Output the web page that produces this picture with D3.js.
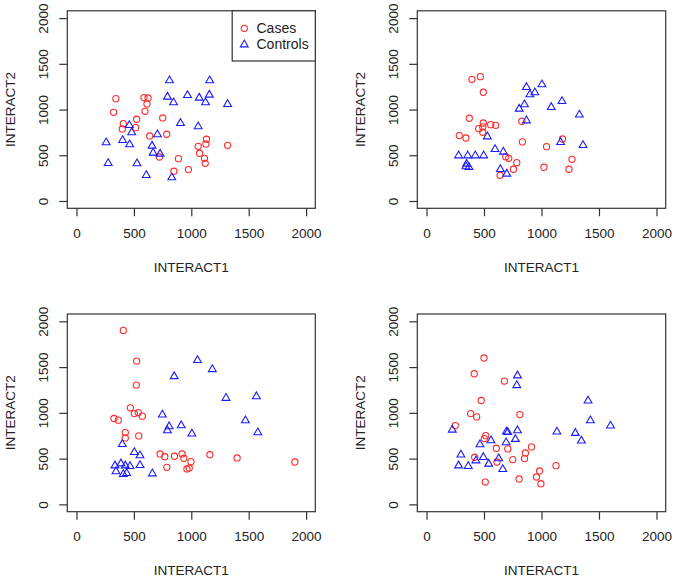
<!DOCTYPE html>
<html>
<head>
<meta charset="utf-8">
<script src="https://cdn.jsdelivr.net/npm/d3@7"></script>
<style>
  body { margin: 0; background: #fff; }
  svg { display: block; }
  text { font-family: "Liberation Sans", Arial, Helvetica, sans-serif; fill: #222; }
</style>
</head>
<body>
<svg id="chart" width="675" height="580"></svg>
<script>
// Tick values shared by all panels
const tickValues = [0, 500, 1000, 1500, 2000];
const xLabel = "INTERACT1";
const yLabel = "INTERACT2";
const legendLabels = ["Cases", "Controls"];

// Panel 1 (top-left)
const p1CasesX = [343, 323, 588, 623, 614, 597, 524, 408, 399, 515, 751, 638, 786, 1133, 1127, 1060, 1316, 1072, 1115, 1121, 888, 722, 975, 848];
const p1CasesY = [1119, 970, 1130, 1127, 1061, 981, 894, 846, 788, 802, 908, 711, 730, 675, 624, 598, 609, 522, 467, 412, 463, 481, 343, 325];
const p1ControlsX = [810, 1160, 792, 845, 967, 1069, 1157, 1124, 1316, 906, 1060, 460, 481, 705, 259, 402, 463, 658, 667, 728, 276, 527, 608, 830];
const p1ControlsY = [1324, 1324, 1145, 1083, 1163, 1134, 1167, 1083, 1065, 857, 821, 835, 755, 733, 646, 671, 624, 609, 533, 522, 419, 416, 288, 263];

// Panel 2 (top-right)
const p2CasesX = [395, 468, 494, 372, 494, 558, 602, 454, 489, 489, 285, 343, 829, 834, 1183, 1044, 689, 715, 785, 756, 640, 1021, 1265, 1239];
const p2CasesY = [1331, 1360, 1189, 905, 853, 835, 828, 791, 810, 752, 715, 689, 872, 646, 678, 594, 485, 467, 419, 347, 281, 369, 456, 347];
const p2ControlsX = [1004, 869, 899, 942, 852, 806, 1085, 1178, 1329, 869, 529, 1166, 1361, 596, 668, 279, 358, 424, 497, 349, 343, 369, 642, 698];
const p2ControlsY = [1280, 1251, 1171, 1193, 1061, 1014, 1032, 1097, 949, 886, 711, 649, 616, 572, 544, 503, 503, 503, 503, 412, 383, 375, 353, 303];

// Panel 3 (bottom-left)
const p3CasesX = [408, 524, 521, 469, 504, 538, 573, 326, 364, 425, 425, 542, 728, 769, 853, 920, 935, 997, 787, 962, 982, 1162, 1399, 1902];
const p3CasesY = [1901, 1566, 1303, 1055, 992, 1003, 964, 938, 920, 784, 726, 748, 551, 521, 526, 551, 504, 467, 405, 387, 398, 543, 507, 463];
const p3ControlsX = [1054, 1183, 851, 1302, 1567, 1471, 1579, 748, 807, 792, 912, 1005, 399, 504, 553, 553, 335, 387, 425, 466, 344, 408, 437, 661];
const p3ControlsY = [1581, 1482, 1405, 1168, 1186, 923, 792, 986, 858, 814, 869, 778, 664, 576, 540, 434, 430, 452, 430, 423, 365, 335, 346, 343];

// Panel 4 (bottom-right)
const p4CasesX = [500, 415, 677, 476, 384, 436, 812, 250, 515, 503, 607, 707, 913, 860, 852, 750, 419, 613, 1126, 983, 956, 995, 805, 511];
const p4CasesY = [1599, 1427, 1347, 1135, 992, 956, 981, 861, 751, 719, 613, 606, 628, 562, 500, 489, 515, 463, 423, 365, 299, 226, 277, 244];
const p4ControlsX = [791, 785, 1405, 1425, 1600, 224, 695, 707, 791, 1134, 1294, 1347, 773, 692, 561, 465, 299, 494, 430, 628, 279, 363, 541, 663];
const p4ControlsY = [1413, 1307, 1139, 923, 865, 821, 800, 795, 814, 800, 785, 701, 719, 682, 704, 661, 548, 522, 485, 507, 430, 423, 449, 390];

const panels = [
  { casesX: p1CasesX, casesY: p1CasesY, ctrlX: p1ControlsX, ctrlY: p1ControlsY, x0: 67.3, x1: 315.3, y0: 10.8, y1: 208.3, legend: true },
  { casesX: p2CasesX, casesY: p2CasesY, ctrlX: p2ControlsX, ctrlY: p2ControlsY, x0: 417.3, x1: 665.7, y0: 10.8, y1: 208.3, legend: false },
  { casesX: p3CasesX, casesY: p3CasesY, ctrlX: p3ControlsX, ctrlY: p3ControlsY, x0: 67.3, x1: 315.3, y0: 314.0, y1: 511.7, legend: false },
  { casesX: p4CasesX, casesY: p4CasesY, ctrlX: p4ControlsX, ctrlY: p4ControlsY, x0: 417.3, x1: 665.7, y0: 314.0, y1: 511.7, legend: false }
];

const svg = d3.select("#chart");
const RED = "#ff2a2a", BLUE = "#1a1aff";
const FS = 13.5;

function triangle(g, cx, cy) {
  const s = 3.9; // half width
  const h = s * Math.sqrt(3);
  g.append("path")
    .attr("d", `M${cx},${cy - h * 2 / 3 + 0.6}L${cx + s},${cy + h / 3 + 0.6}L${cx - s},${cy + h / 3 + 0.6}Z`)
    .attr("fill", "none").attr("stroke", BLUE).attr("stroke-width", 1.1);
}

panels.forEach((p) => {
  const x = d3.scaleLinear().domain([-80, 2080]).range([p.x0, p.x1]);
  const y = d3.scaleLinear().domain([-80, 2080]).range([p.y1, p.y0]);
  const g = svg.append("g");

  // points: cases (circles)
  p.casesX.forEach((v, i) => {
    g.append("circle").attr("cx", x(v)).attr("cy", y(p.casesY[i])).attr("r", 3.1)
      .attr("fill", "none").attr("stroke", RED).attr("stroke-width", 1.1);
  });
  // controls (triangles)
  p.ctrlX.forEach((v, i) => triangle(g, x(v), y(p.ctrlY[i])));

  // box
  g.append("rect").attr("x", p.x0).attr("y", p.y0).attr("width", p.x1 - p.x0).attr("height", p.y1 - p.y0)
    .attr("fill", "none").attr("stroke", "#333").attr("stroke-width", 1.2);

  // x axis (ticks only)
  const xa = g.append("g").attr("transform", `translate(0,${p.y1})`)
    .call(d3.axisBottom(x).tickValues(tickValues).tickSize(8).tickPadding(12).tickFormat(d3.format("d")));
  xa.select(".domain").remove();
  xa.selectAll("line").attr("stroke", "#333").attr("stroke-width", 1.2);
  xa.selectAll("text").attr("font-size", FS).attr("fill", "#222")
    .attr("font-family", '"Liberation Sans", Arial, sans-serif');

  // y axis (ticks only, labels rotated)
  const ya = g.append("g").attr("transform", `translate(${p.x0},0)`)
    .call(d3.axisLeft(y).tickValues(tickValues).tickSize(8).tickPadding(9).tickFormat(d3.format("d")));
  ya.select(".domain").remove();
  ya.selectAll("line").attr("stroke", "#333").attr("stroke-width", 1.2);
  ya.selectAll("text").attr("font-size", FS).attr("fill", "#222")
    .attr("font-family", '"Liberation Sans", Arial, sans-serif')
    .attr("x", null)
    .attr("text-anchor", "middle")
    .attr("transform", "translate(-24.5,0) rotate(-90)")
    .attr("dy", "0.35em");

  // axis titles
  g.append("text").attr("x", (p.x0 + p.x1) / 2).attr("y", p.y1 + 63.5)
    .attr("text-anchor", "middle").attr("font-size", FS).text(xLabel);
  g.append("text")
    .attr("transform", `translate(${p.x0 - 52.3},${(p.y0 + p.y1) / 2}) rotate(-90)`)
    .attr("text-anchor", "middle").attr("font-size", FS).text(yLabel);

  if (p.legend) {
    const lx0 = 232.2, ly1 = 61;
    g.append("rect").attr("x", lx0).attr("y", p.y0).attr("width", p.x1 - lx0).attr("height", ly1 - p.y0)
      .attr("fill", "#fff").attr("stroke", "#333").attr("stroke-width", 1.2);
    g.append("circle").attr("cx", 244.3).attr("cy", 28.3).attr("r", 3.1)
      .attr("fill", "none").attr("stroke", RED).attr("stroke-width", 1.1);
    triangle(g, 244.3, 44);
    g.append("text").attr("x", 256.5).attr("y", 28.3).attr("dy", "0.35em").attr("font-size", 14).text(legendLabels[0]);
    g.append("text").attr("x", 256.5).attr("y", 44.5).attr("dy", "0.35em").attr("font-size", 14).text(legendLabels[1]);
  }
});
</script>
</body>
</html>
